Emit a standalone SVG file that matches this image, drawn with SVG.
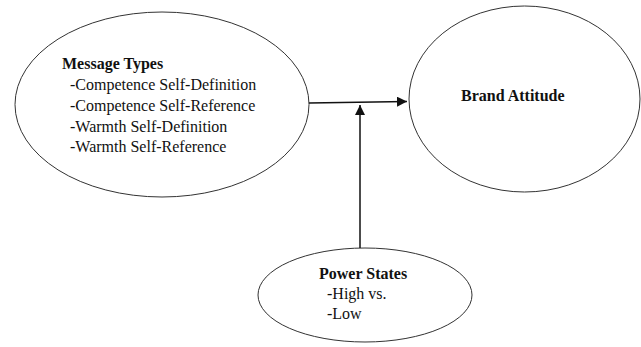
<svg xmlns="http://www.w3.org/2000/svg" width="641" height="347" viewBox="0 0 641 347">
<style>
.node{fill:#fff;stroke:#333;stroke-width:1}
text{font-family:"Liberation Serif","Times New Roman",serif;font-size:16px;fill:#111}
.b{font-weight:bold}
.conn{stroke:#111;stroke-width:1.5;fill:none}
</style>
<defs>
<marker id="ah" viewBox="0 0 10 10" refX="10" refY="5" markerWidth="10" markerHeight="10" markerUnits="userSpaceOnUse" orient="auto">
<path d="M0,0 L10,5 L0,10 z" fill="#111"/>
</marker>
</defs>
<rect width="641" height="347" fill="#fff"/>
<g id="message-types">
<ellipse class="node" cx="162" cy="104.5" rx="147" ry="92.5"/>
<text class="b" x="62" y="69">Message Types</text>
<text x="70" y="90">-Competence Self-Definition</text>
<text x="70" y="111">-Competence Self-Reference</text>
<text x="70" y="132">-Warmth Self-Definition</text>
<text x="70" y="152">-Warmth Self-Reference</text>
</g>
<g id="brand-attitude">
<ellipse class="node" cx="524.5" cy="99" rx="115.5" ry="93"/>
<text class="b" x="461" y="101">Brand Attitude</text>
</g>
<g id="power-states">
<ellipse class="node" cx="365" cy="295" rx="107" ry="47"/>
<text class="b" x="319" y="279">Power States</text>
<text x="327" y="299">-High vs.</text>
<text x="327" y="319">-Low</text>
</g>
<g id="connectors">
<line class="conn" x1="309" y1="103" x2="407" y2="101.5" marker-end="url(#ah)"/>
<line class="conn" x1="360" y1="248" x2="360" y2="105" marker-end="url(#ah)"/>
</g>
</svg>
